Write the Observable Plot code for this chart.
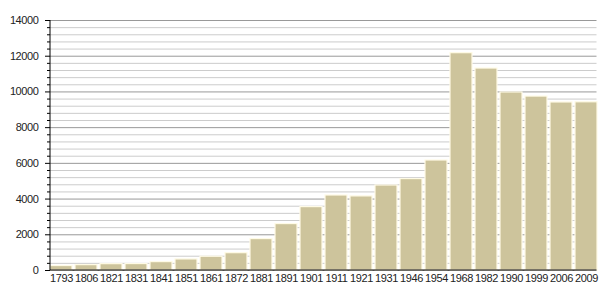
<!DOCTYPE html>
<html>
<head>
<meta charset="utf-8">
<script src="https://cdn.jsdelivr.net/npm/d3@7"></script>
<script src="https://cdn.jsdelivr.net/npm/@observablehq/plot@0.6"></script>
<style>
  html, body { margin: 0; padding: 0; background: #fff; }
  svg { display: block; }
  svg text { letter-spacing: -0.4px; }
</style>
</head>
<body>
<div id="chart"></div>
<script>
const years = ["1793","1806","1821","1831","1841","1851","1861","1872","1881","1891","1901","1911","1921","1931","1946","1954","1968","1982","1990","1999","2006","2009"];
const population = [250, 300, 355, 360, 470, 620, 770, 970, 1760, 2600, 3550, 4200, 4150, 4760, 5120, 6160, 12170, 11310, 9970, 9740, 9410, 9420];
const majorTicks = [0, 2000, 4000, 6000, 8000, 10000, 12000, 14000];
const minorTicks = d3.range(0, 14001, 400).filter(v => v % 2000 !== 0);

const data = years.map((y, i) => ({year: y, pop: population[i]}));

const axisLines = (index, scales, values, dim) => {
  const g = d3.create("svg:g");
  const x0 = dim.marginLeft, x1 = dim.width - dim.marginRight;
  const yb = dim.height - dim.marginBottom, yt = dim.marginTop;
  g.append("line").attr("x1", x0).attr("x2", x0).attr("y1", yt).attr("y2", yb)
    .attr("stroke", "#000").attr("stroke-width", 1);
  g.append("line").attr("x1", x0).attr("x2", x1).attr("y1", yb).attr("y2", yb)
    .attr("stroke", "#000").attr("stroke-width", 1);
  return g.node();
};

const chart = Plot.plot({
  width: 605,
  height: 300,
  marginTop: 20,
  marginBottom: 30,
  marginLeft: 50,
  marginRight: 8.5,
  style: {fontFamily: "'Liberation Sans', Arial, sans-serif", fontSize: "11px", color: "#222"},
  x: {domain: years, padding: 0.14, paddingOuter: 0, label: null},
  y: {domain: [0, 14000], label: null},
  marks: [
    Plot.ruleY(minorTicks, {stroke: "#cccccc", strokeWidth: 1}),
    Plot.ruleY(majorTicks, {stroke: "#999999", strokeWidth: 1}),
    Plot.barY(data, {x: "year", y: "pop", fill: "#cdc49c", stroke: "#fffbe6", strokeWidth: 1.2}),
    Plot.axisY(minorTicks, {tickSize: 3, text: null, stroke: "#000"}),
    Plot.axisY(majorTicks, {tickSize: 5, tickPadding: 7, stroke: "#000", fill: "#222", label: null, fontSize: 11, tickFormat: d => String(d)}),
    Plot.axisX({tickSize: 0, tickPadding: 3.5, fill: "#222", label: null, fontSize: 11}),
    axisLines
  ]
});
document.getElementById("chart").appendChild(chart);
</script>
</body>
</html>
